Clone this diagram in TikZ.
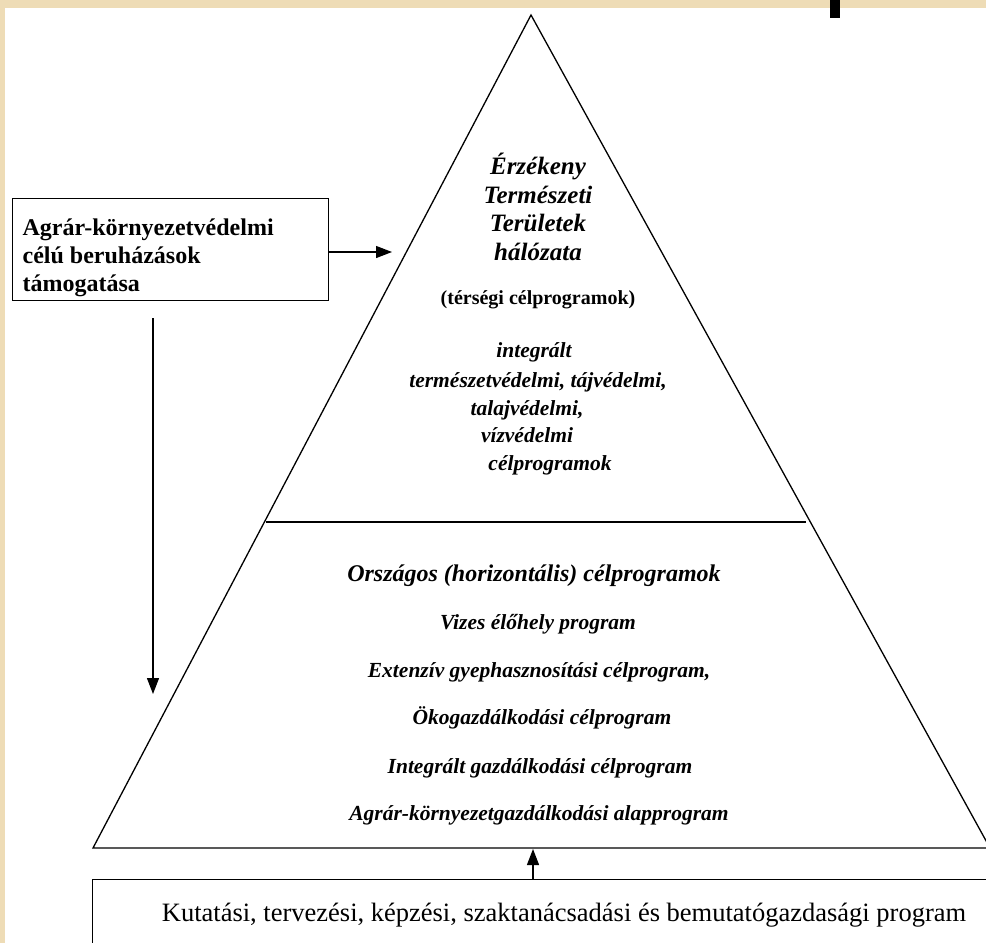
\documentclass[tikz,border=0pt]{standalone}
\usepackage{fontspec}
\setmainfont{Liberation Serif}
\usetikzlibrary{arrows.meta}
\definecolor{parch}{HTML}{EEDCB6}
\begin{document}
\begin{tikzpicture}[x=1pt,y=-1pt,line width=1.3pt,
  arr/.style={-{Triangle[length=16pt,width=12pt]}},
  ttl/.style={font=\bfseries\itshape\fontsize{25}{28.5}\selectfont,inner sep=0pt,align=center},
  sub/.style={font=\bfseries\itshape\fontsize{21.5}{26}\selectfont,inner sep=0pt,anchor=base},
  hd/.style={font=\bfseries\itshape\fontsize{24}{28}\selectfont,inner sep=0pt,anchor=base},
  bx/.style={font=\bfseries\fontsize{24}{28}\selectfont,align=left,inner sep=0pt,anchor=north west},
  rg/.style={font=\fontsize{26.5}{30}\selectfont,inner sep=0pt,anchor=base}]
\useasboundingbox (0,0) rectangle (986,943);
\fill[white] (0,0) rectangle (986,943);
\fill[parch] (0,0) rectangle (986,8);
\fill[parch] (0,0) rectangle (5,943);
\fill[black] (830,0) rectangle (840,18);
\begin{scope}
\clip (0,0) rectangle (986,943);
% pyramid
\coordinate (apex) at (531,15);
\coordinate (bl) at (93,848);
\coordinate (br) at (990,848);
\draw[line join=miter] (apex) -- (bl) -- (br) -- cycle;
\coordinate (divl) at (266,522);
\coordinate (divr) at (806,522);
\draw (divl) -- (divr);
% bottom box
\node[draw,anchor=north west,minimum width=960pt,minimum height=120pt,inner sep=0pt] (kbox) at (92,879) {};
\end{scope}
% left box
\node[draw,anchor=north west,minimum width=316pt,minimum height=102pt,inner sep=0pt] (box) at (12,198) {};
\node[bx] (boxtxt) at (22,218) {Agrár-környezetvédelmi\\célú beruházások\\támogatása};
% arrows
\coordinate (rtip) at (392,252);
\draw[arr] (box.east |- rtip) -- (rtip);
\coordinate (dstart) at (153,318);
\coordinate (dtip) at (153,694);
\draw[arr] (dstart) -- (dtip);
\coordinate (utip) at (533,849);
\draw[arr] (utip |- kbox.north) -- (utip);
% upper texts
\node[ttl] (ttl) at (538,207) {Érzékeny\\Természeti\\Területek\\hálózata};
\node[font=\bfseries\fontsize{20}{24}\selectfont,inner sep=0pt,anchor=base] (tc) at (538,304) {(térségi célprogramok)};
\node[sub] (s1) at (534,357) {integrált};
\node[sub] (s2) at (538,387) {természetvédelmi, tájvédelmi,};
\node[sub] (s3) at (527,415) {talajvédelmi,};
\node[sub] (s4) at (527,442) {vízvédelmi};
\node[sub] (s5) at (550,470) {célprogramok};
% lower texts
\node[hd] (h) at (534,581) {Országos (horizontális) célprogramok};
\node[sub] (l1) at (538,629) {Vizes élőhely program};
\node[sub] (l2) at (539,677) {Extenzív gyephasznosítási célprogram,};
\node[sub] (l3) at (542,724) {Ökogazdálkodási célprogram};
\node[sub] (l4) at (540,773) {Integrált gazdálkodási célprogram};
\node[sub] (l5) at (539,820) {Agrár-környezetgazdálkodási alapprogram};
\node[rg] (kt) at (564,921) {Kutatási, tervezési, képzési, szaktanácsadási és bemutatógazdasági program};
\end{tikzpicture}
\end{document}
